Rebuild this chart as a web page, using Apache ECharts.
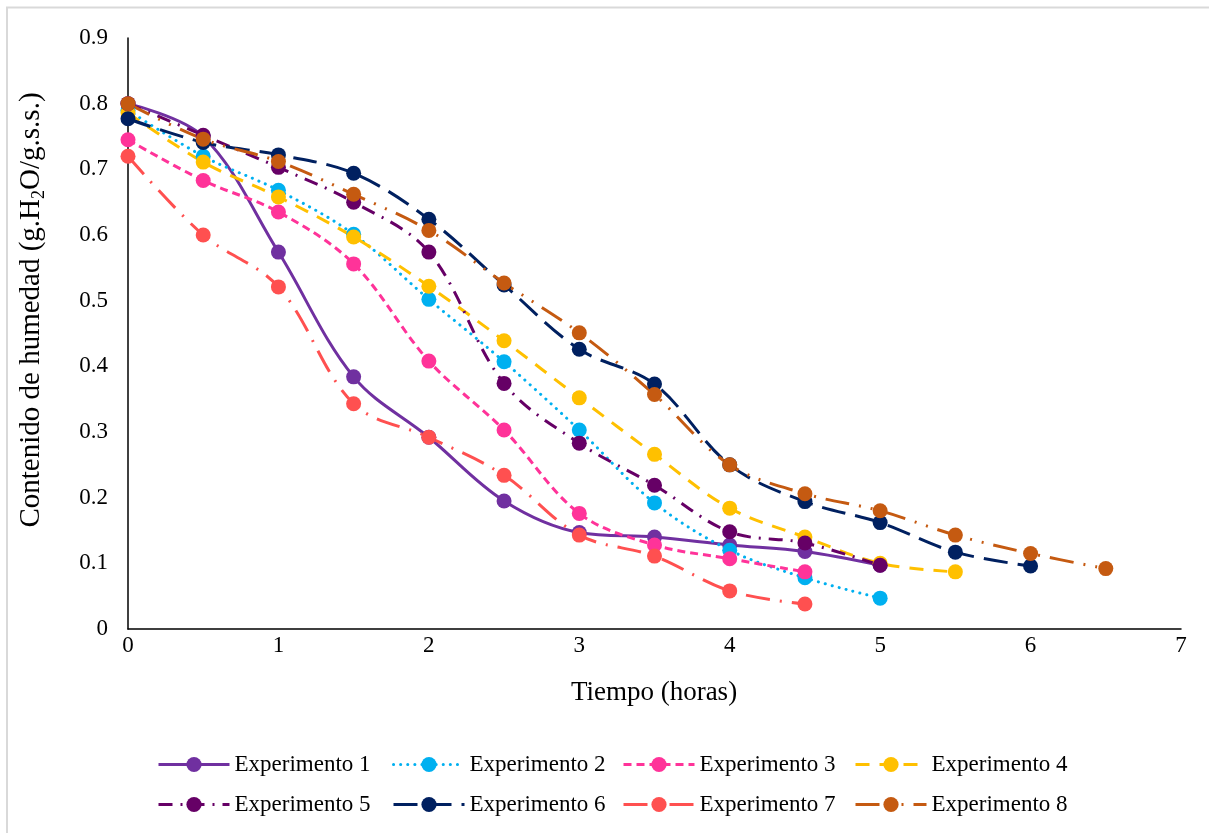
<!DOCTYPE html>
<html>
<head>
<meta charset="utf-8">
<title>Contenido de humedad vs tiempo</title>
<script src="https://cdn.jsdelivr.net/npm/echarts@6/dist/echarts.min.js"></script>
<style>
  html, body { margin: 0; padding: 0; background: #fff; }
  #chart { width: 1209px; height: 833px; }
</style>
</head>
<body>
<div id="chart"></div>
<script>
// Drying time (hours), shared by all runs
const tiempo = [0, 0.5, 1, 1.5, 2, 2.5, 3, 3.5, 4, 4.5, 5, 5.5, 6, 6.5];

// Moisture content (g H2O / g dry solid) per experiment
const exp1 = [0.80, 0.75, 0.574, 0.384, 0.292, 0.195, 0.147, 0.14, 0.128, 0.118, 0.097];
const exp2 = [0.79, 0.72, 0.668, 0.601, 0.502, 0.407, 0.303, 0.192, 0.12, 0.078, 0.047];
const exp3 = [0.745, 0.683, 0.635, 0.556, 0.408, 0.303, 0.176, 0.128, 0.107, 0.087];
const exp4 = [0.786, 0.711, 0.658, 0.597, 0.522, 0.439, 0.352, 0.266, 0.184, 0.14, 0.1, 0.087];
const exp5 = [0.80, 0.752, 0.703, 0.65, 0.574, 0.374, 0.283, 0.219, 0.148, 0.131, 0.097];
const exp6 = [0.777, 0.741, 0.722, 0.694, 0.624, 0.524, 0.426, 0.373, 0.25, 0.194, 0.162, 0.117, 0.096];
const exp7 = [0.72, 0.60, 0.521, 0.343, 0.292, 0.234, 0.143, 0.111, 0.058, 0.038];
const exp8 = [0.80, 0.746, 0.712, 0.662, 0.607, 0.527, 0.451, 0.357, 0.25, 0.206, 0.18, 0.143, 0.115, 0.092];

const nombres = ['Experimento 1', 'Experimento 2', 'Experimento 3', 'Experimento 4',
                 'Experimento 5', 'Experimento 6', 'Experimento 7', 'Experimento 8'];
const valores = [exp1, exp2, exp3, exp4, exp5, exp6, exp7, exp8];

const colores = ['#7030A0', '#00B0F0', '#FF3399', '#FFC000', '#660066', '#002060', '#FF5050', '#C55A11'];
const trazos = [
  'solid',
  [0.1, 7],
  [8, 5],
  [14, 10],
  [14, 8, 2, 8],
  [24, 10],
  [24, 10, 2, 10],
  [24, 10, 2, 10, 2, 10]
];

const FONT = '"Liberation Serif", "Times New Roman", serif';

const series = nombres.map((n, i) => ({
  name: n,
  type: 'line',
  smooth: 0.35,
  data: valores[i].map((v, k) => [tiempo[k], v]),
  symbol: 'circle',
  symbolSize: 15,
  itemStyle: { color: colores[i] },
  lineStyle: {
    color: colores[i],
    width: 3,
    type: trazos[i],
    cap: i === 1 ? 'round' : 'butt'
  },
  emphasis: { disabled: true },
  animation: false
}));

// Legend: 4 columns x 2 rows, one legend component per entry so columns line up
const colLeft = [157, 392, 622, 854];
const rowTop = [753, 793];
const legends = nombres.map((n, i) => ({
  orient: 'horizontal',
  left: colLeft[i % 4],
  top: rowTop[Math.floor(i / 4)],
  padding: 0,
  itemWidth: 71,
  itemHeight: 19,
  selectedMode: false,
  data: [n],
  lineStyle: { width: 3 },
  textStyle: { fontFamily: FONT, fontSize: 23, color: '#000' }
}));

const chart = echarts.init(document.getElementById('chart'), null, { renderer: 'canvas' });
chart.setOption({
  backgroundColor: '#fff',
  animation: false,
  grid: { left: 128, right: 28, top: 38, bottom: 204, containLabel: false },
  xAxis: {
    type: 'value',
    min: 0, max: 7, interval: 1,
    axisLine: { show: true, lineStyle: { color: '#000', width: 1.5 } },
    axisTick: { show: false },
    splitLine: { show: false },
    axisLabel: { color: '#000', fontFamily: FONT, fontSize: 23, margin: 5 }
  },
  yAxis: {
    type: 'value',
    min: 0, max: 0.9, interval: 0.1,
    axisLine: { show: true, lineStyle: { color: '#000', width: 1.5 } },
    axisTick: { show: false },
    splitLine: { show: false },
    axisLabel: {
      color: '#000', fontFamily: FONT, fontSize: 23, margin: 20,
      formatter: v => String(+v.toFixed(1))
    }
  },
  legend: legends,
  graphic: [
    {
      type: 'rect', silent: true, z: -1,
      shape: { x: 7, y: 7.5, width: 1240, height: 860 },
      style: { fill: 'none', stroke: '#d9d9d9', lineWidth: 2 }
    },
    {
      type: 'text', silent: true,
      x: 654, y: 693,
      style: {
        text: 'Tiempo (horas)', fontFamily: FONT, fontSize: 27, fill: '#000',
        align: 'center', verticalAlign: 'middle'
      }
    },
    {
      type: 'text', silent: true,
      x: 31, y: 310, rotation: Math.PI / 2,
      style: {
        text: '{a|Contenido de humedad (g.H}{s|2}{a|O/g.s.s.)}',
        align: 'center', verticalAlign: 'middle',
        rich: {
          a: { fontFamily: FONT, fontSize: 29, fill: '#000', lineHeight: 34 },
          s: { fontFamily: FONT, fontSize: 18, fill: '#000', lineHeight: 18, verticalAlign: 'bottom' }
        }
      }
    }
  ],
  series: series
});
</script>
</body>
</html>
